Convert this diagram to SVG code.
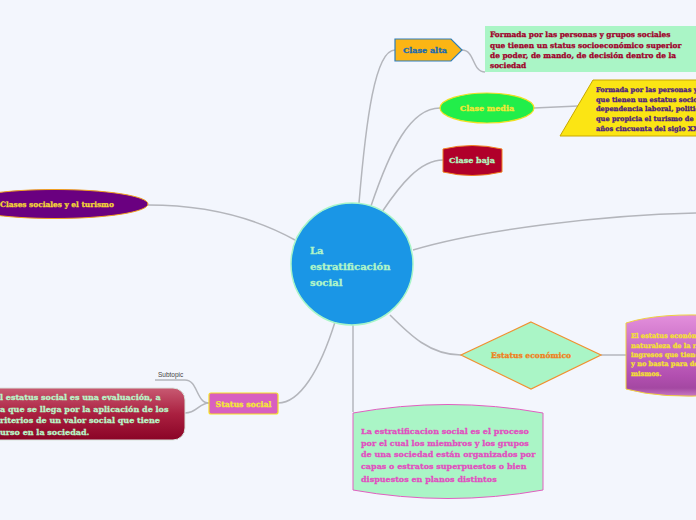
<svg xmlns="http://www.w3.org/2000/svg" width="696" height="520" viewBox="0 0 696 520">
<defs>
<linearGradient id="gRed" x1="0" y1="0" x2="0" y2="1">
<stop offset="0" stop-color="#c85a72"/><stop offset="0.5" stop-color="#aa2040"/><stop offset="1" stop-color="#8a0426"/>
</linearGradient>
<linearGradient id="gPur" x1="0" y1="0" x2="0" y2="1">
<stop offset="0" stop-color="#e38fdc"/><stop offset="0.75" stop-color="#b24fb0"/><stop offset="0.9" stop-color="#a448a2"/><stop offset="1" stop-color="#c878c4"/>
</linearGradient>
</defs>
<style>
.t{font-family:"DejaVu Serif","Liberation Serif",serif;font-weight:bold;stroke-width:0.3;}
.c{fill:none;stroke:#b4b6bc;stroke-width:1.5;}
</style>
<rect width="696" height="520" fill="#f3f6fd"/>
<g id="connectors">
<path class="c" d="M359,203 C366,120 375,50 395,50"/>
<path class="c" d="M371,206 C390,150 410,108 440,108"/>
<path class="c" d="M382,212 C400,185 420,160 443,160"/>
<path class="c" d="M295,240 C250,215 200,205 148,205"/>
<path class="c" d="M413,250 C480,230 600,215 696,213"/>
<path class="c" d="M390,315 C410,335 430,355 461,355"/>
<path class="c" d="M335,322 C320,370 300,403 278,403"/>
<path class="c" d="M353,325 L353,412"/>
<path class="c" d="M462,50 C475,50 472,72 485,72"/>
<path class="c" d="M534,108 L578,106"/>
<path class="c" d="M601,355 L626,355"/>
<path class="c" d="M155,380 L185,380 C198,380 196,403 209,403"/>
<path class="c" d="M185,413 C197,413 199,403 209,403"/>
</g>
<g id="center">
<circle cx="352" cy="264" r="61" fill="#1a96e6" stroke="#a8f5c8" stroke-width="1.5"/>
<text class="t" font-size="10" fill="#b0f5c8" stroke="#b0f5c8"><tspan x="310" y="254">La</tspan><tspan x="310" y="270">estratificación</tspan><tspan x="310" y="286">social</tspan></text>
</g>
<g id="clase-alta">
<path d="M395,39 L451,39 L462,50 L451,61 L395,61 Z" fill="#fbb514" stroke="#2e7dbb" stroke-width="1.2"/>
<text class="t" x="425" y="53" font-size="8" fill="#1a6bb0" stroke="#1a6bb0" text-anchor="middle">Clase alta</text>
</g>
<g id="clase-alta-desc">
<rect x="485" y="26" width="215" height="46" fill="#aaf5c6"/>
<text class="t" font-size="7.4" fill="#a0002a" stroke="#a0002a"><tspan x="490" y="37">Formada por las personas y grupos sociales</tspan><tspan x="490" y="48">que tienen un status socioeconómico superior</tspan><tspan x="490" y="58">de poder, de mando, de decisión dentro de la</tspan><tspan x="490" y="68">sociedad</tspan></text>
</g>
<g id="clase-media">
<ellipse cx="487" cy="108" rx="47" ry="15" fill="#22ee4a" stroke="#f0e020" stroke-width="1.2"/>
<text class="t" x="487" y="111" font-size="8" fill="#f5e835" stroke="#f5e835" text-anchor="middle">Clase media</text>
</g>
<g id="clase-media-desc">
<path d="M593,80 L720,80 L720,136 L560,136 Z" fill="#fbe514" stroke="#c8a800" stroke-width="1"/>
<text class="t" font-size="6.6" fill="#4a1a80" stroke="#4a1a80"><tspan x="596" y="92">Formada por las personas y</tspan><tspan x="596" y="102">que tienen un estatus socio</tspan><tspan x="596" y="111">dependencia laboral, politic</tspan><tspan x="596" y="121">que propicia el turismo de m</tspan><tspan x="596" y="131">años cincuenta del siglo XX</tspan></text>
</g>
<g id="clase-baja">
<path d="M443,149 Q472,142 502,149 L502,172 Q472,179 443,172 Z" fill="#b0002a" stroke="#f08020" stroke-width="1"/>
<text class="t" x="472" y="163" font-size="8" fill="#b0f5c0" stroke="#b0f5c0" text-anchor="middle">Clase baja</text>
</g>
<g id="clases-sociales">
<ellipse cx="55" cy="204" rx="93" ry="14.5" fill="#6a0080" stroke="#f0a020" stroke-width="1"/>
<text class="t" x="0" y="207" font-size="7.4" fill="#f5d835" stroke="#f5d835">Clases sociales y el turismo</text>
</g>
<g id="estatus-economico">
<path d="M531,322 L601,355 L531,389 L461,355 Z" fill="#aaf5c6" stroke="#f09030" stroke-width="1.2"/>
<text class="t" x="531" y="358" font-size="7.6" fill="#f08020" stroke="#f08020" text-anchor="middle">Estatus económico</text>
</g>
<g id="estatus-economico-desc">
<path d="M626,323 Q661,312 720,316 L720,395 Q661,399 626,389 Z" fill="url(#gPur)" stroke="#f0d040" stroke-width="1"/>
<text class="t" font-size="6.6" fill="#f5e030" stroke="#f5e030"><tspan x="631" y="338">El estatus económ</tspan><tspan x="631" y="348">naturaleza de la r</tspan><tspan x="631" y="357">ingresos que tiene</tspan><tspan x="631" y="366">y no basta para de</tspan><tspan x="631" y="376">mismos.</tspan></text>
</g>
<g id="status-social">
<rect x="209" y="393" width="69" height="21" rx="2" fill="#d860c0" stroke="#f5e020" stroke-width="1.2"/>
<text class="t" x="243.5" y="407" font-size="7.8" fill="#f5e835" stroke="#f5e835" text-anchor="middle">Status social</text>
</g>
<g id="subtopic">
<text x="158" y="377" font-family="Liberation Sans, Arial, sans-serif" font-size="6.5" fill="#444">Subtopic</text>
</g>
<g id="status-social-desc">
<rect x="-20" y="388" width="205" height="52" rx="12" fill="url(#gRed)" stroke="#d8e4dc" stroke-width="1"/>
<text class="t" font-size="8" fill="#b8f5c8" stroke="#b8f5c8"><tspan x="0" y="400">l estatus social es una evaluación, a</tspan><tspan x="0" y="412">a que se llega por la aplicación de los</tspan><tspan x="0" y="423">riterios de un valor social que tiene</tspan><tspan x="0" y="435">urso en la sociedad.</tspan></text>
</g>
<g id="definicion">
<path d="M353,413 Q448,396 543,413 L543,490 Q448,507 353,490 Z" fill="#aaf5c6" stroke="#e060c0" stroke-width="1"/>
<text class="t" font-size="8" fill="#e050c0" stroke="#e050c0"><tspan x="361" y="434">La estratificacion  social es el proceso</tspan><tspan x="361" y="446">por el cual los miembros y los grupos</tspan><tspan x="361" y="457">de una sociedad están organizados por</tspan><tspan x="361" y="469">capas o estratos superpuestos o bien</tspan><tspan x="361" y="482">dispuestos en planos distintos</tspan></text>
</g>
</svg>
